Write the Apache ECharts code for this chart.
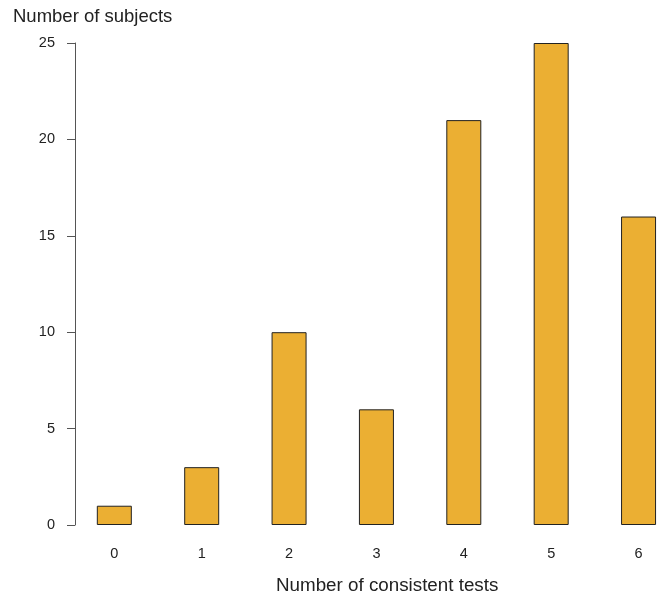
<!DOCTYPE html>
<html><head><meta charset="utf-8">
<script src="https://cdn.jsdelivr.net/npm/echarts@6/dist/echarts.min.js"></script>
<style>html,body{margin:0;padding:0;background:#fff}#c{width:662px;height:598px}</style>
</head><body><div id="c"></div>
<script>
const categories = [0, 1, 2, 3, 4, 5, 6];
const subjects = [1, 3, 10, 6, 21, 25, 16];
const yTicks = [0, 5, 10, 15, 20, 25];
const chart = echarts.init(document.getElementById('c'));
const font = 'Liberation Sans, Arial, sans-serif';
chart.setOption({
  animation: false,
  grid: {left: 75, right: 1.6, top: 43, bottom: 73},
  xAxis: {
    type: 'value', min: -0.45, max: 6.25,
    axisLine: {show: false}, axisTick: {show: false}, splitLine: {show: false},
    axisLabel: {margin: 21, color: '#222', fontSize: 14.5, fontFamily: font,
      customValues: categories}
  },
  yAxis: {
    type: 'value', min: yTicks[0], max: yTicks[yTicks.length-1], interval: 5,
    axisLine: {show: true, onZero: false, lineStyle: {color: '#555', width: 1}},
    axisTick: {show: true, length: 8, lineStyle: {color: '#555'}},
    splitLine: {show: false},
    axisLabel: {margin: 20, color: '#222', fontSize: 14.5, fontFamily: font}
  },
  graphic: [
    {type: 'text', left: 13, top: 7, style: {text: 'Number of subjects', fontSize: 18.5, fontFamily: font, fill: '#222'}},
    {type: 'text', left: 276, top: 576, style: {text: 'Number of consistent tests', fontSize: 18.8, fontFamily: font, fill: '#222'}}
  ],
  series: [{
    type: 'bar', barWidth: 35, clip: false,
    data: categories.map((c, i) => [c, subjects[i]]),
    itemStyle: {color: '#EBAF33', borderColor: '#222', borderWidth: 1}
  }]
});
</script></body></html>
